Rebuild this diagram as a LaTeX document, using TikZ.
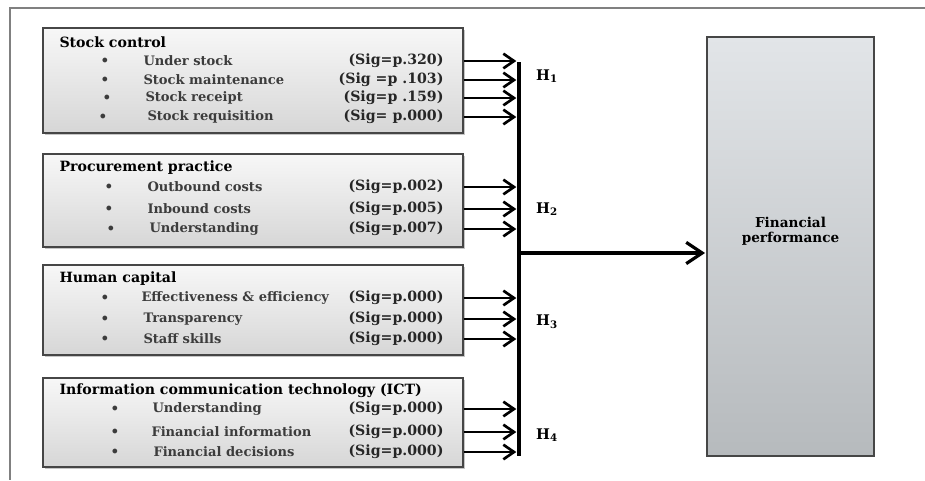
\documentclass[tikz,border=0pt]{standalone}
\usepackage{fontspec}
\setmainfont{DejaVu Serif}
\usepackage{tikz}
\usetikzlibrary{positioning,shapes,fit,arrows.meta,shadows}
\tikzset{every picture/.style={line width=0.75pt}}
\definecolor{boxline}{RGB}{70,70,70}
\definecolor{itemtxt}{RGB}{60,60,60}
\tikzset{
  varbox/.style={draw=boxline, line width=1.1pt, top color=gray!6, bottom color=gray!32,
    minimum width=315pt, inner sep=0pt,
    drop shadow={shadow xshift=1.2pt, shadow yshift=-1.2pt, opacity=.45}},
  fpbox/.style={draw=boxline, line width=1.1pt, top color={rgb,255:red,226;green,229;blue,232},
    bottom color={rgb,255:red,182;green,186;blue,189}, minimum width=125pt,
    minimum height=314pt, align=center, font=\bfseries\fontsize{10.2}{11}\selectfont,
    drop shadow={shadow xshift=1.2pt, shadow yshift=-1.2pt, opacity=.35}},
  title/.style={anchor=west, inner sep=0.75pt, font=\bfseries\fontsize{10.6}{12}\selectfont},
  item/.style={anchor=west, inner sep=0.75pt, font=\bfseries\fontsize{9.8}{12}\selectfont, text=itemtxt},
  dot/.style={inner sep=0.75pt, font=\small, text=itemtxt},
  sig/.style={anchor=east, inner sep=0.75pt, font=\bfseries\fontsize{10.6}{12}\selectfont, text=black!85},
  hyp/.style={inner sep=0.75pt, font=\bfseries\fontsize{11}{12}\selectfont},
  smallarrow/.style={-{Straight Barb[length=8pt,width=11pt,line width=2pt]}, line width=2.2pt, shorten >=2pt},
  mainarrow/.style={-{Straight Barb[length=12pt,width=16pt,line width=2.4pt]}, line width=2.6pt, shorten >=1pt},
  bar/.style={line width=3.6pt}
}
\begin{document}
\begin{tikzpicture}[x=0.75pt,y=0.75pt,yscale=-1,xscale=1]

\useasboundingbox (0,0) rectangle (925,480);

%Frame lines
\draw [gray, line width=0.8pt] (925,8) -- (10,8) -- (10,480);

%Shape: boxes
\node (sc) [varbox, minimum height=78.75pt] at (253,80.5) {};
\node (pp) [varbox, minimum height=69.75pt] at (253,200.5) {};
\node (hc) [varbox, minimum height=67.5pt] at (253,310) {};
\node (ict) [varbox, minimum height=66.75pt] at (253,422.5) {};
\node (fp) [fpbox] at (790.5,246.5) {Financial\\performance\\[14pt]};

% Text Node: stock control
\node (sct) [title] at (58,42) {Stock control};
\node (scb1) [dot] at (105,61) {$\bullet$};
\node (sci1) [item] at (142,61) {Under stock};
\node (sc1) [sig] at (445,61) {(Sig=p.320)};
\node (scb2) [dot] at (105,80) {$\bullet$};
\node (sci2) [item] at (142,80) {Stock maintenance};
\node (sc2) [sig] at (445,80) {(Sig =p .103)};
\node (scb3) [dot] at (107,98) {$\bullet$};
\node (sci3) [item] at (144,98) {Stock receipt};
\node (sc3) [sig] at (445,98) {(Sig=p .159)};
\node (scb4) [dot] at (103,117) {$\bullet$};
\node (sci4) [item] at (146,117) {Stock requisition};
\node (sc4) [sig] at (445,117) {(Sig= p.000)};

% Text Node: procurement practice
\node (ppt) [title] at (58,168) {Procurement practice};
\node (ppb1) [dot] at (109,187) {$\bullet$};
\node (ppi1) [item] at (146,187) {Outbound costs};
\node (pp1) [sig] at (445,187) {(Sig=p.002)};
\node (ppb2) [dot] at (109,209) {$\bullet$};
\node (ppi2) [item] at (146,209) {Inbound costs};
\node (pp2) [sig] at (445,209) {(Sig=p.005)};
\node (ppb3) [dot] at (111,229) {$\bullet$};
\node (ppi3) [item] at (148,229) {Understanding};
\node (pp3) [sig] at (445,229) {(Sig=p.007)};

% Text Node: human capital
\node (hct) [title] at (58,279) {Human capital};
\node (hcb1) [dot] at (105,298) {$\bullet$};
\node (hci1) [item] at (140,298) {Effectiveness \& efficiency};
\node (hc1) [sig] at (445,298) {(Sig=p.000)};
\node (hcb2) [dot] at (105,319) {$\bullet$};
\node (hci2) [item] at (142,319) {Transparency};
\node (hc2) [sig] at (445,319) {(Sig=p.000)};
\node (hcb3) [dot] at (105,339) {$\bullet$};
\node (hci3) [item] at (142,339) {Staff skills};
\node (hc3) [sig] at (445,339) {(Sig=p.000)};

% Text Node: ICT
\node (ictt) [title] at (58,391) {Information communication technology (ICT)};
\node (ictb1) [dot] at (115,409) {$\bullet$};
\node (icti1) [item] at (151,409) {Understanding};
\node (ict1) [sig] at (445,409) {(Sig=p.000)};
\node (ictb2) [dot] at (115,432) {$\bullet$};
\node (icti2) [item] at (150,432) {Financial information};
\node (ict2) [sig] at (445,432) {(Sig=p.000)};
\node (ictb3) [dot] at (115,452) {$\bullet$};
\node (icti3) [item] at (152,452) {Financial decisions};
\node (ict3) [sig] at (445,452) {(Sig=p.000)};

%Straight Lines: bar
\coordinate (bartop) at (519,62);
\coordinate (barbot) at (519,456);
\coordinate (hub) at (519,253);
\draw [bar] (bartop) -- (barbot);

%Straight Lines: arrows into bar
\draw [smallarrow] (sc.east |- sc1) -- (bartop |- sc1);
\draw [smallarrow] (sc.east |- sc2) -- (bartop |- sc2);
\draw [smallarrow] (sc.east |- sc3) -- (bartop |- sc3);
\draw [smallarrow] (sc.east |- sc4) -- (bartop |- sc4);
\draw [smallarrow] (pp.east |- pp1) -- (bartop |- pp1);
\draw [smallarrow] (pp.east |- pp2) -- (bartop |- pp2);
\draw [smallarrow] (pp.east |- pp3) -- (bartop |- pp3);
\draw [smallarrow] (hc.east |- hc1) -- (bartop |- hc1);
\draw [smallarrow] (hc.east |- hc2) -- (bartop |- hc2);
\draw [smallarrow] (hc.east |- hc3) -- (bartop |- hc3);
\draw [smallarrow] (ict.east |- ict1) -- (bartop |- ict1);
\draw [smallarrow] (ict.east |- ict2) -- (bartop |- ict2);
\draw [smallarrow] (ict.east |- ict3) -- (bartop |- ict3);

%Straight Lines: main arrow
\draw [mainarrow] (hub) -- (hub -| fp.west);

% Text Node: hypotheses
\node (h1) [hyp] at (547,76) {H\textsubscript{1}};
\node (h2) [hyp] at (547,209) {H\textsubscript{2}};
\node (h3) [hyp] at (547,322) {H\textsubscript{3}};
\node (h4) [hyp] at (547,435) {H\textsubscript{4}};

\end{tikzpicture}
\end{document}
